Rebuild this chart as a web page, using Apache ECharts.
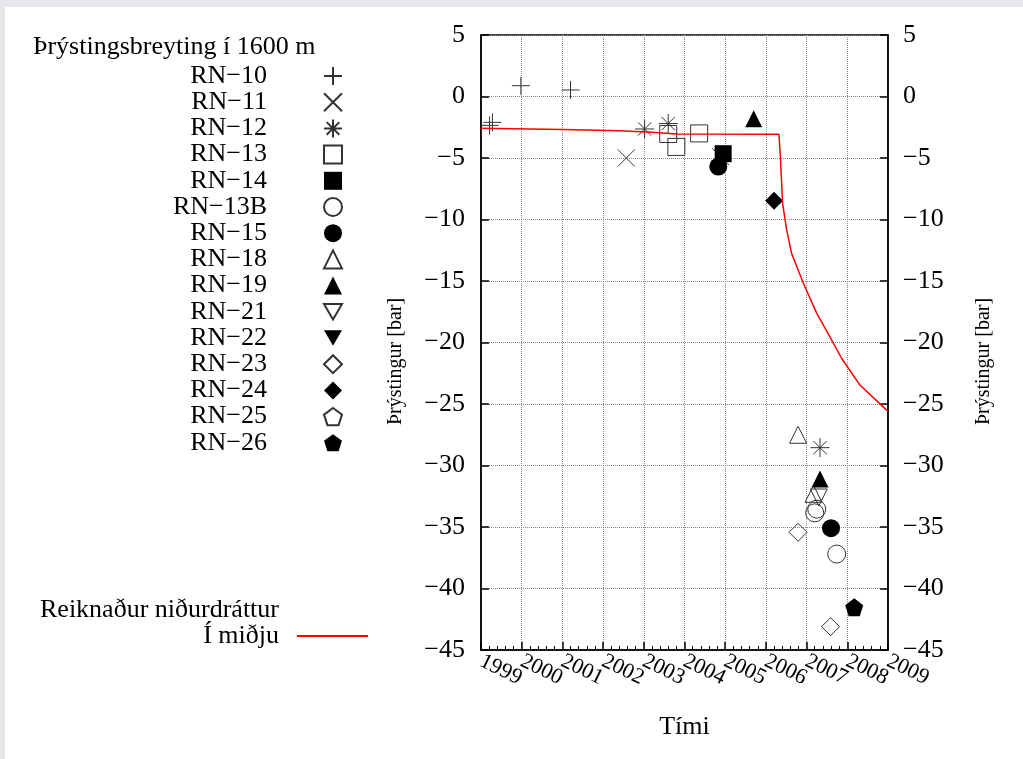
<!DOCTYPE html>
<html>
<head>
<meta charset="utf-8">
<script src="https://cdn.jsdelivr.net/npm/echarts@6/dist/echarts.min.js"></script>
<style>
html,body{margin:0;padding:0;background:#e6e7eb;width:1023px;height:759px;overflow:hidden;}
#chart{position:absolute;left:5px;top:7px;width:1018px;height:752px;background:#fff;}
</style>
</head>
<body>
<div id="chart"></div>
<script>
// ---- data ----
const wellNames = ['RN−10','RN−11','RN−12','RN−13','RN−14','RN−13B','RN−15','RN−18','RN−19','RN−21','RN−22','RN−23','RN−24','RN−25','RN−26'];
const rn10  = [[1999.21,-2.35],[1999.28,-2.1],[1999.98,0.88],[2001.2,0.53]];
const rn11  = [[2002.57,-5.0],[2004.89,-4.9]];
const rn12  = [[2003.02,-2.64],[2003.6,-2.2],[2007.33,-28.55]];
const rn13  = [[2003.6,-3.05],[2003.8,-4.1],[2004.36,-3.0]];
const rn14  = [[2004.95,-4.65]];
const rn13b = [[2007.25,-33.55],[2007.2,-33.85],[2007.74,-37.2]];
const rn15  = [[2004.83,-5.7],[2007.6,-35.1]];
const rn18  = [[2006.79,-27.5],[2007.17,-32.3]];
const rn19  = [[2005.7,-1.8],[2007.33,-31.1]];
const rn21  = [[2007.3,-32.6]];
const rn22  = [];
const rn23  = [[2006.79,-35.43],[2007.59,-43.1]];
const rn24  = [[2006.2,-8.47]];
const rn25  = [];
const rn26  = [[2008.17,-41.53]];
const modelYears  = [1999,2001,2002.4,2003.2,2003.8,2006.32,2006.36,2006.41,2006.51,2006.63,2006.92,2007.25,2007.57,2007.86,2008.31,2009];
const modelValues = [-2.58,-2.68,-2.78,-2.9,-3.05,-3.07,-5.16,-8.68,-10.85,-12.74,-15.18,-17.63,-19.53,-21.28,-23.46,-25.6];
const xTicks = [1999,2000,2001,2002,2003,2004,2005,2006,2007,2008,2009];
const yTicks = [5,0,-5,-10,-15,-20,-25,-30,-35,-40,-45];
const lineName = 'Reiknaður niðurdráttur\nÍ miðju';
const legendTitle = 'Þrýstingsbreyting í 1600 m';
const yName = 'Þrýstingur [bar]';
const xName = 'Tími';

const FONT = 'Liberation Serif';
const P = {
  plus: 'path://M0,5L10,5M5,0L5,10',
  cross: 'path://M0,0L10,10M10,0L0,10',
  star: 'path://M0,5L10,5M5,0L5,10M1.5,1.5L8.5,8.5M8.5,1.5L1.5,8.5',
  down: 'path://M0,0L10,0L5,8.66Z',
  penta: 'path://M5,0L9.755,3.455L7.939,9.045L2.061,9.045L0.245,3.455Z'
};
const openStyle = {color:'rgba(0,0,0,0)', borderColor:'#333', borderWidth:1, opacity:1};
const fillStyle = {color:'#000', borderColor:'#000', borderWidth:0, opacity:1};
const defs = [
  [rn10, P.plus, openStyle, 18],
  [rn11, P.cross, openStyle, 17],
  [rn12, P.star, openStyle, 19],
  [rn13, 'rect', openStyle, 17],
  [rn14, 'rect', fillStyle, 17],
  [rn13b, 'circle', openStyle, 18],
  [rn15, 'circle', fillStyle, 18],
  [rn18, 'triangle', openStyle, 17],
  [rn19, 'triangle', fillStyle, 17],
  [rn21, P.down, openStyle, 17],
  [rn22, P.down, fillStyle, 17],
  [rn23, 'diamond', openStyle, 18],
  [rn24, 'diamond', fillStyle, 18],
  [rn25, P.penta, openStyle, 18],
  [rn26, P.penta, fillStyle, 18]
];
const series = defs.map((d,i)=>({
  name: wellNames[i], type:'scatter', data:d[0], symbol:d[1], symbolSize:d[3],
  itemStyle: d[2], z: 3, silent:true
}));
series.push({
  name: lineName, type:'line', data: modelYears.map((x,i)=>[x, modelValues[i]]),
  showSymbol:false, symbol:'none', lineStyle:{color:'#ff0000', width:1.5}, itemStyle:{color:'#ff0000'}, z:5, silent:true
});

const axisCommonY = {
  type:'value', min:-45, max:5, interval:5,
  axisLine:{show:true, lineStyle:{color:'#000', width:1.5}},
  axisTick:{show:true, inside:true, length:8, lineStyle:{color:'#000', width:1.5}},
  axisLabel:{fontFamily:FONT, fontSize:26, color:'#000', margin:16, formatter:v=>String(v).replace('-','−')},
  name: yName, nameLocation:'middle', nameGap:75, nameMoveOverlap:false,
  nameTextStyle:{fontFamily:FONT, fontSize:20, color:'#000', padding:[0,38,0,0]}
};
const xLabelBase = {fontFamily:FONT, fontSize:22, color:'#000', rotate:-26, margin:10, hideOverlap:false};
const xEnds = [xTicks[0], xTicks[xTicks.length-1]];

const chart = echarts.init(document.getElementById('chart'));
chart.setOption({
  animation:false,
  backgroundColor:'#fff',
  title:{text:legendTitle, left:28, top:27, padding:0, textStyle:{fontFamily:FONT, fontSize:26, fontWeight:'normal', color:'#000'}},
  legend:[{
    data: wellNames, orient:'vertical', align:'right', left:157, top:51,
    itemWidth:18, itemHeight:18, itemGap:0.2, selectedMode:false,
    textStyle:{fontFamily:FONT, fontSize:26, color:'#000', lineHeight:26, width:100, padding:[0,52,0,0]}
  },{
    data:[lineName], orient:'vertical', align:'right', left:19, top:585,
    itemWidth:71, itemHeight:18, selectedMode:false,
    itemStyle:{color:'rgba(0,0,0,0)', borderWidth:0, opacity:0},
    formatter: n => n + '\n ',
    textStyle:{fontFamily:FONT, fontSize:26, color:'#000', lineHeight:26, width:250, padding:[0,13,0,0]}
  }],
  grid:{left:476, right:135, top:28, bottom:109, show:true, borderColor:'#000', borderWidth:1.5, backgroundColor:'transparent', outerBoundsMode:'none', containLabel:false},
  xAxis:[{
    type:'value', min:1999, max:2009, interval:1,
    axisLine:{show:true, onZero:false, lineStyle:{color:'#000', width:1.5}},
    axisTick:{show:true, inside:true, length:8, lineStyle:{color:'#000', width:1.5}},
    minorTick:{show:true, splitNumber:5, length:4, lineStyle:{color:'#000', width:1}},
    splitLine:{show:true, lineStyle:{color:'#888', type:'dotted', width:1}},
    axisLabel:Object.assign({}, xLabelBase, {showMinLabel:false, showMaxLabel:false, formatter:v=>String(v)}),
    name:xName, nameLocation:'middle', nameGap:64, nameMoveOverlap:false,
    nameTextStyle:{fontFamily:FONT, fontSize:26, color:'#000'}
  },{
    type:'value', min:1999, max:2009, interval:1, position:'bottom', offset:0,
    axisLine:{show:false}, axisTick:{show:false}, splitLine:{show:false},
    axisLabel:Object.assign({}, xLabelBase, {showMinLabel:true, showMaxLabel:true,
      formatter:v=>(xEnds.indexOf(v) >= 0 ? String(v) : '')})
  }],
  yAxis:[
    Object.assign({}, axisCommonY, {position:'left',
      splitLine:{show:true, lineStyle:{color:'#888', type:'dotted', width:1}}}),
    Object.assign({}, axisCommonY, {position:'right', nameGap:86, splitLine:{show:false},
      axisLabel:Object.assign({}, axisCommonY.axisLabel, {margin:15})})
  ],
  series: series
});
</script>
</body>
</html>
